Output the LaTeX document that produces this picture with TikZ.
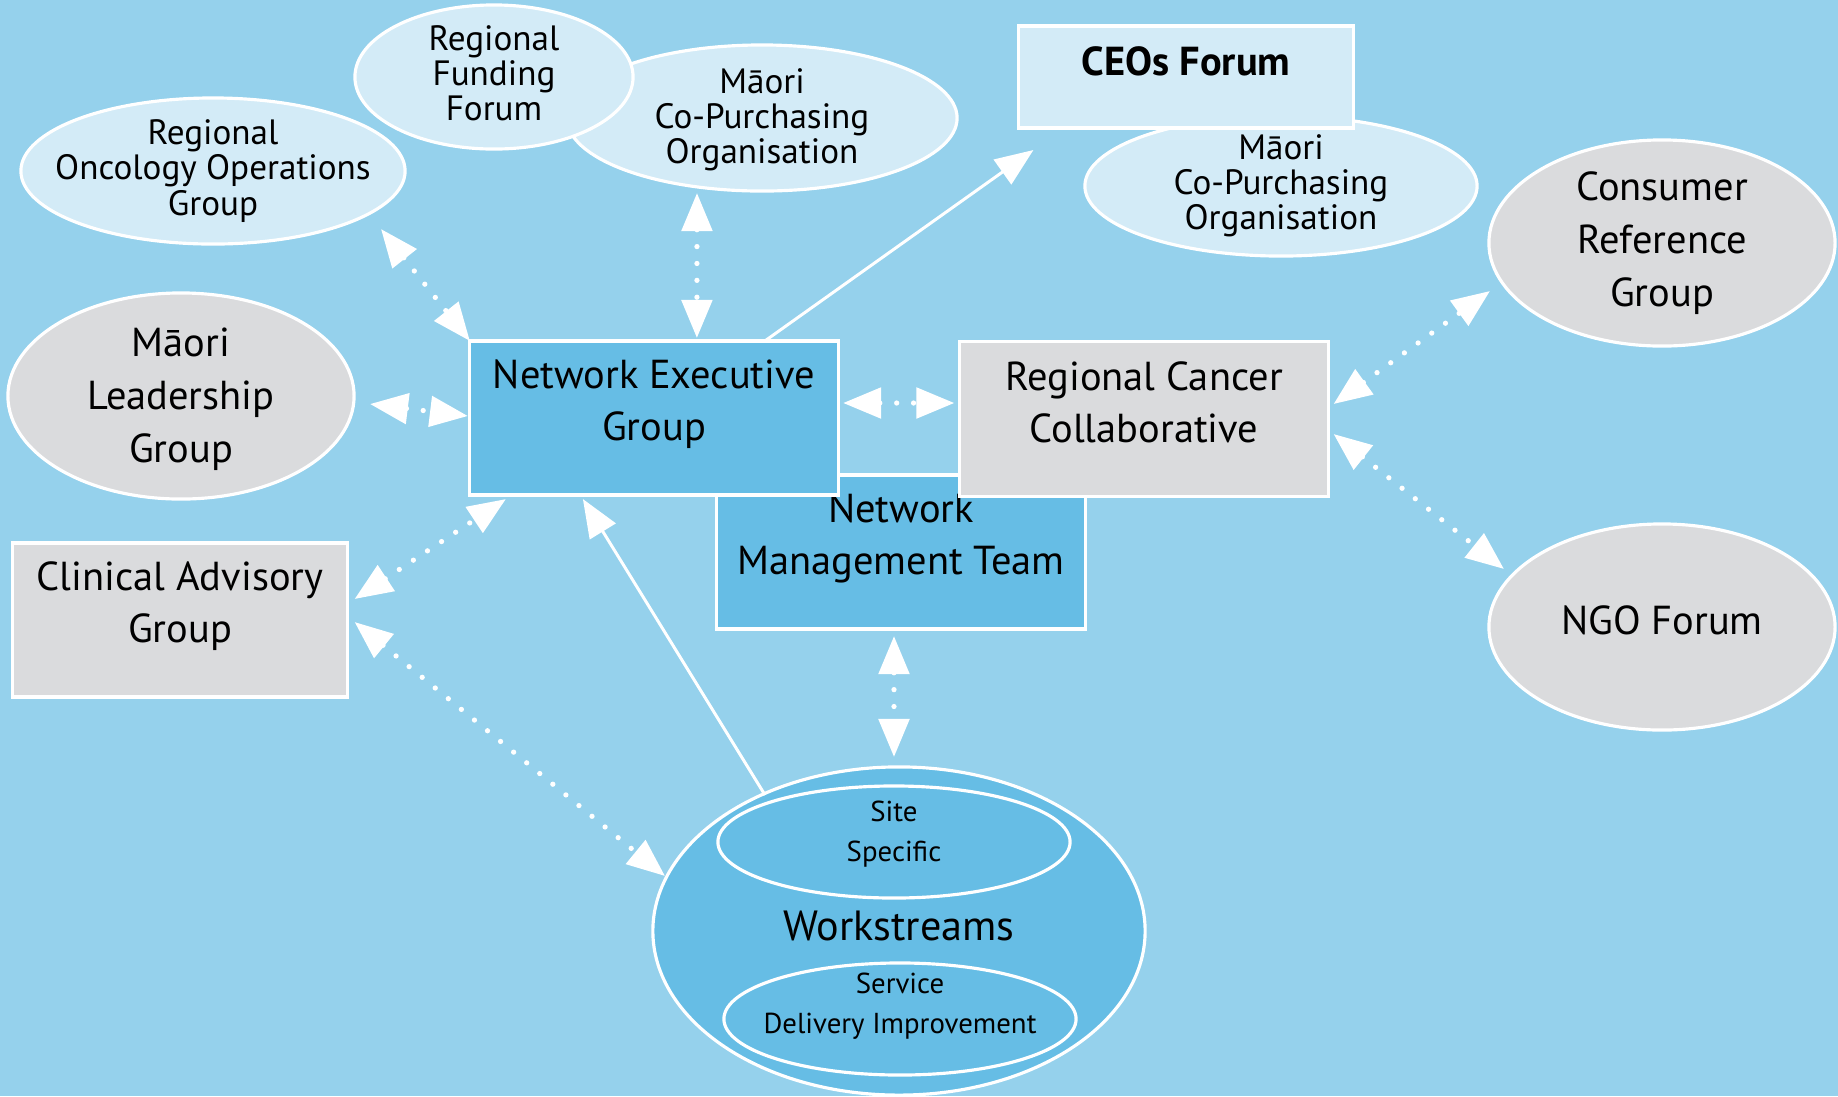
\documentclass[tikz,border=0pt]{standalone}
\usepackage{fontspec}
\setmainfont{PT Sans}
\usetikzlibrary{calc}
\usetikzlibrary{shapes.geometric}
\usetikzlibrary{arrows.meta}
\definecolor{skyback}{RGB}{149,209,236}
\definecolor{midblue}{RGB}{102,189,229}
\definecolor{paleblue}{RGB}{211,235,247}
\definecolor{lightgrey}{RGB}{218,219,221}
\tikzset{
  oval/.style={ellipse,draw=white,line width=0.9pt,inner sep=0pt,outer sep=0pt},
  smalloval/.style={oval,fill=paleblue},
  bigoval/.style={oval,fill=lightgrey,minimum width=3.46cm,minimum height=2.06cm},
  wsoval/.style={oval,fill=midblue,minimum width=3.52cm,minimum height=1.12cm},
  box/.style={rectangle,draw=white,line width=0.9pt,inner sep=0pt,outer sep=0pt},
  smalltext/.style={align=center,font=\fontsize{10}{10}\selectfont},
  boxtext/.style={align=center,font=\fontsize{11.5}{14.8}\selectfont},
  bigtext/.style={align=center,font=\fontsize{11.5}{15}\selectfont},
  wstext/.style={align=center,font=\fontsize{8.2}{11.5}\selectfont},
  link/.style={white,line width=1.5pt,line cap=round,dash pattern=on 0pt off 4.8pt,
    {Triangle[length=0.38cm,width=0.3cm]}-{Triangle[length=0.38cm,width=0.3cm]}},
  feed/.style={white,line width=0.85pt,-{Triangle[length=0.38cm,width=0.3cm]}}
}
\begin{document}
\begin{tikzpicture}[x=0.01cm,y=-0.01cm]
\useasboundingbox (0,0) rectangle (1838,1096);
\fill[skyback] (0,0) rectangle (1838,1096);

\node[smalloval,minimum width=3.90cm,minimum height=1.46cm] (mcpa) at (762,118) {};
\node[smalltext] at ($(mcpa)+(0,2)$) {Māori\\Co-Purchasing\\Organisation};
\node[smalloval,minimum width=2.78cm,minimum height=1.44cm] (rff) at (494,77) {};
\node[smalltext] at ($(rff)+(0,-4)$) {Regional\\Funding\\Forum};
\node[smalloval,minimum width=3.84cm,minimum height=1.46cm] (roog) at (213,171) {};
\node[smalltext] at (roog) {Regional\\Oncology Operations\\Group};
\node[smalloval,minimum width=3.92cm,minimum height=1.40cm] (mcpb) at (1281,186) {};
\node[smalltext] at (mcpb) {Māori\\Co-Purchasing\\Organisation};
\node[box,fill=paleblue,minimum width=3.35cm,minimum height=1.02cm] (ceos) at (1186,77) {};
\node[boxtext,font=\fontsize{11.5}{14.8}\selectfont\bfseries] at ($(ceos)+(0,-16)$) {CEOs Forum};

\node[bigoval] (crg) at (1662,243) {};
\node[bigtext] at (crg) {Consumer\\Reference\\Group};
\node[bigoval] (ml) at (181,396) {};
\node[bigtext] at ($(ml)+(0,3)$) {Māori\\Leadership\\Group};
\node[bigoval] (ngo) at (1662,627) {};
\node[bigtext] at ($(ngo)+(0,-7)$) {NGO Forum};

\node[box,fill=midblue,minimum width=3.68cm,minimum height=1.54cm] (nmt) at (901,552) {};
\node[boxtext] at ($(nmt)+(0,-14)$) {Network\\Management Team};
\node[box,fill=midblue,minimum width=3.68cm,minimum height=1.54cm] (neg) at (654,418) {};
\node[boxtext] at ($(neg)+(0,-14)$) {Network Executive\\Group};
\node[box,fill=lightgrey,minimum width=3.69cm,minimum height=1.55cm] (rcc) at (1144,419) {};
\node[boxtext] at ($(rcc)+(0,-17)$) {Regional Cancer\\Collaborative};
\node[box,fill=lightgrey,minimum width=3.35cm,minimum height=1.54cm] (cag) at (180,620) {};
\node[boxtext] at ($(cag)+(0,-14)$) {Clinical Advisory\\Group};

\node[oval,fill=midblue,minimum width=4.92cm,minimum height=3.28cm] (ws) at (899,931) {};
\node[bigtext,font=\fontsize{12}{14}\selectfont] at ($(ws)+(0,-5)$) {Workstreams};
\node[wsoval] (site) at (894,842) {};
\node[wstext] at ($(site)+(0,-8)$) {Site\\Specific};
\node[wsoval] (sdi) at (900,1019) {};
\node[wstext] at ($(sdi)+(0,-13)$) {Service\\Delivery Improvement};

\draw[link] ($(roog)+(168,58)$) -- (neg.north west);
\draw[link] ($(mcpa)+(-65,75)$) -- ($(neg.north west)+(227,-3)$);
\draw[feed] ($(neg.north west)+(295,0)$) -- ($(ceos.south west)+(15,22)$);
\draw[link] ($(ml)+(189,8)$) -- ($(neg.west)+(-2,-2)$);
\draw[link] ($(neg.east)+(5,-15)$) -- ($(rcc.west)+(-5,-16)$);
\draw[link] ($(rcc.east)+(5,-15)$) -- ($(crg)+(-172,48)$);
\draw[link] ($(rcc.east)+(5,15)$) -- ($(ngo)+(-158,-58)$);
\draw[link] ($(cag.east)+(7,-21)$) -- ($(neg.south west)+(36,4)$);
\draw[link] ($(cag.east)+(7,2)$) -- ($(ws)+(-234,-55)$);
\draw[link] ($(nmt.south)+(-7,7)$) -- ($(ws)+(-5,-174)$);
\draw[feed] ($(ws)+(-134,-136)$) -- ($(neg.south west)+(113,4)$);
\end{tikzpicture}
\end{document}
